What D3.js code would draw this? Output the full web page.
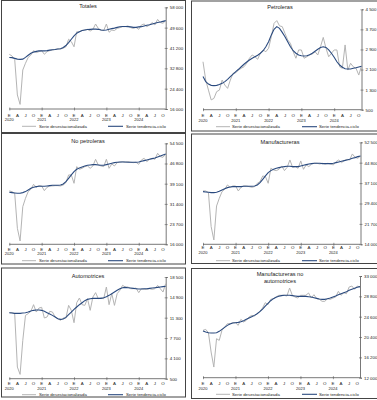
<!DOCTYPE html>
<html><head><meta charset="utf-8">
<script src="https://cdn.jsdelivr.net/npm/d3@7"></script>
<style>body{margin:0;background:#fff}svg{display:block}text{font-family:"Liberation Sans",Arial,sans-serif;fill:#222}</style>
</head><body><svg id="c" width="377" height="400"></svg>
<script>
const years = ["2020","2021","2022","2023","2024"];
const quarterLabels = ["E","A","J","O"];
const legendLabels = ["Serie desestacionalizada","Serie tendencia-ciclo"];

const totalesDes = [38580,37900,36500,21800,17900,32100,34900,37300,38300,40100,39300,39700,40100,38600,39700,40100,40400,40600,40800,40800,41100,41700,44800,43800,41700,47900,47900,48400,48600,48900,48200,48900,51100,49300,48600,48400,51100,47700,48600,48400,49300,49600,50000,50000,50300,49600,49300,49700,48900,50700,51100,50000,50700,51700,50700,53000,51700,51400,52500];
const totalesTen = [37300,37200,36900,36600,36500,36600,37300,38200,39000,39500,39800,40000,40000,40000,40100,40300,40500,40600,40800,40900,41400,42200,43400,44800,46200,47300,47900,48400,48600,48800,48900,49000,49000,48900,48600,48500,48600,48900,49200,49400,49700,50000,50100,50100,50000,49900,49700,49700,49900,50000,50300,50600,50800,51100,51400,51700,51900,52200,52500];
const totalesTicks = [16000,24400,32800,41200,49600,58000];

const petrolDes = [2410,1680,1280,890,950,1220,1280,1680,1480,1350,1680,1950,1970,2080,2150,2210,2350,2550,2680,2610,2510,2750,2880,2810,2950,3410,3940,4050,3840,3810,3540,3280,3140,2810,2550,2880,2880,2550,2610,2680,2720,2810,2680,3010,3380,2950,2610,2750,2880,2880,2210,2150,3080,2080,2350,2210,2150,1880,2250];
const petrolTen = [1820,1620,1520,1470,1460,1470,1500,1550,1620,1710,1820,1920,2020,2110,2210,2310,2400,2480,2550,2610,2670,2750,2850,3010,3210,3480,3700,3810,3740,3580,3410,3210,3010,2850,2750,2680,2650,2640,2650,2690,2750,2830,2910,2980,3010,2980,2880,2750,2590,2410,2280,2190,2130,2120,2120,2150,2170,2200,2230];
const petrolTicks = [500,1300,2100,2900,3700,4500];

const noPetrolDes = [36330,36080,35440,22100,17270,30360,33530,36080,36970,38870,37730,38360,38240,36460,37730,38240,38240,38360,38360,38240,38620,39510,42430,42430,39250,45610,44590,44970,45610,45860,44970,45860,48400,46240,45860,45610,48400,44970,46620,45860,47130,47260,47510,47260,47510,47260,47130,47260,46500,48150,48780,47510,48400,48780,48400,50690,49420,49160,50430];
const noPetrolTen = [35820,35700,35570,35440,35440,35700,36080,36710,37350,37730,37980,38110,38110,38110,38240,38360,38490,38490,38490,38620,39000,39890,41160,42430,43700,44590,45100,45480,45860,46110,46240,46370,46370,46240,46110,46110,46370,46620,46880,47130,47260,47380,47380,47380,47260,47260,47260,47260,47380,47640,47890,48150,48400,48660,48910,49290,49670,50050,50430];
const noPetrolTicks = [16000,23700,31400,39100,46800,54500];

const manufDes = [34140,34140,33510,20680,15640,28470,31370,33880,34760,36400,35520,36020,36020,34140,35520,36020,36020,35770,35520,35770,37030,37660,39800,39540,37030,42690,42060,41810,42310,43570,41810,43070,45830,43070,43320,42690,45460,42310,43950,43320,44320,44580,44580,44320,44580,44320,44580,44320,43950,45200,45830,44830,45580,46080,45830,48100,46840,46460,47340];
const manufTen = [33880,33760,33630,33510,33510,33630,34010,34510,35010,35390,35640,35770,35770,35770,35770,35900,35900,35900,35900,36020,36400,37280,38540,39800,41050,41810,42310,42690,42940,43190,43320,43440,43440,43320,43320,43320,43570,43820,44070,44320,44450,44580,44580,44580,44450,44450,44450,44450,44580,44830,45080,45330,45580,45830,46080,46460,46710,47090,47340];
const manufTicks = [14000,21700,29400,37100,44800,52500];

const autoDes = [12180,12180,12010,2560,1260,7280,11710,12010,12420,13600,12300,13010,13130,11240,11420,12420,12300,11420,11120,10830,11240,11240,13480,12600,10410,13950,14780,13600,13480,14660,12600,14960,15730,14660,14780,14660,16730,13600,15550,13480,15550,16140,17020,16730,16730,16430,16430,16550,15730,16430,16320,16320,16430,16320,16430,17020,16430,15840,17320];
const autoTen = [12180,12120,12070,12070,12070,12120,12180,12300,12480,12600,12650,12650,12600,12420,12180,11950,11710,11420,11120,11000,11060,11360,11830,12300,12770,13190,13600,13950,14310,14540,14660,14720,14720,14720,14720,14840,15020,15250,15550,15840,16140,16430,16610,16670,16610,16550,16490,16430,16370,16370,16430,16430,16490,16550,16610,16670,16730,16790,16850];
const autoTicks = [500,4100,7700,11300,14900,18500];

const manufNoAutoDes = [21770,21980,21290,17300,14200,20050,19710,21770,22460,23150,23150,23360,23360,22810,24050,23500,23840,24530,24870,24740,25220,25700,26390,27490,27080,28180,28320,28660,29010,29010,29010,28870,30520,29010,28660,28450,29010,29010,29010,29490,28450,29140,28320,28180,27770,27770,28320,28180,28450,28660,29830,29010,29560,29350,30730,30930,30250,30930,30730];
const manufNoAutoTen = [21640,21430,21290,21220,21220,21290,21570,21980,22390,22810,23080,23290,23360,23430,23560,23770,24050,24320,24600,24870,25220,25630,26180,26800,27350,27900,28320,28590,28800,28940,29010,29010,29010,28940,28870,28800,28800,28800,28800,28730,28660,28520,28380,28250,28180,28180,28320,28450,28660,28870,29140,29350,29560,29760,30040,30250,30450,30660,30800];
const manufNoAutoTicks = [12000,16200,20400,24600,28800,33000];

const panels = [
  {title:["Totales"], des:totalesDes, ten:totalesTen, ticks:totalesTicks,
   box:[1.5,0.5,184,132], x0:9.3, x1:165.7, top:7.3, bottom:109, tx:88, ty:[8],
   my:117, yy:121.3, ly:126.3, leg:[22,36,39,108,123,126]},
  {title:["Petroleras"], des:petrolDes, ten:petrolTen, ticks:petrolTicks,
   box:[191.5,1,190,130], x0:203, x1:361.5, top:9.3, bottom:109.7, tx:280, ty:[8.7],
   my:117.4, yy:121.8, ly:126.7, leg:[216,230,232,302,317,319]},
  {title:["No petroleras"], des:noPetrolDes, ten:noPetrolTen, ticks:noPetrolTicks,
   box:[1.5,133.5,184,130.5], x0:9.3, x1:165.7, top:143.3, bottom:244.3, tx:88, ty:[142.7],
   my:250.7, yy:255, ly:260.7, leg:[22,36,39,108,123,126]},
  {title:["Manufactureras"], des:manufDes, ten:manufTen, ticks:manufTicks,
   box:[191.5,134,190,129.5], x0:203, x1:360.5, top:142.3, bottom:244.3, tx:280, ty:[144.3],
   my:249.3, yy:254, ly:260.7, leg:[216,230,232,302,317,319]},
  {title:["Automotrices"], des:autoDes, ten:autoTen, ticks:autoTicks,
   box:[1.5,268,184,129], x0:9.3, x1:165.7, top:277, bottom:378.7, tx:88, ty:[278],
   my:385.4, yy:390.2, ly:394.7, leg:[22,36,39,108,123,126]},
  {title:["Manufactureras no","automotrices"], des:manufNoAutoDes, ten:manufNoAutoTen, ticks:manufNoAutoTicks,
   box:[191.5,268.5,190,130], x0:203, x1:360, top:276, bottom:377.7, tx:280, ty:[276.3,283],
   my:384.7, yy:389.5, ly:394.3, leg:[216,230,232,302,317,319]}
];

const GREY = "#b4b4b4", BLUE = "#2a4a7f", AXIS = "#555";
const loc = d3.formatLocale({decimal:".", thousands:" ", grouping:[3], currency:["",""]});
const fmt = loc.format(",d");
const svg = d3.select("#c");

panels.forEach(p => {
  const g = svg.append("g");
  g.append("rect").attr("x",p.box[0]).attr("y",p.box[1]).attr("width",p.box[2]).attr("height",p.box[3])
    .attr("fill","none").attr("stroke","#444").attr("stroke-width",1);
  const n = p.des.length;
  const x = d3.scaleLinear().domain([0,n-1]).range([p.x0,p.x1]);
  const y = d3.scaleLinear().domain([d3.min(p.ticks),d3.max(p.ticks)]).range([p.bottom,p.top]);

  // title
  p.title.forEach((t,i)=> g.append("text").attr("x",p.tx).attr("y",p.ty[i]).attr("text-anchor","middle")
    .attr("font-size",5.6).text(t));

  // y axis on right
  const ya = d3.axisRight(y).tickValues(p.ticks).tickSize(2).tickPadding(2).tickFormat(fmt);
  const yg = g.append("g").attr("transform",`translate(${x(n-1)},0)`).call(ya);
  yg.select(".domain").attr("stroke",AXIS).attr("stroke-width",0.8);
  yg.selectAll(".tick line").attr("stroke",AXIS).attr("stroke-width",0.6).attr("x1",-1);
  yg.selectAll(".tick text").attr("font-size",4.4).attr("fill","#222").attr("font-family",'"Liberation Sans",Arial,sans-serif');

  // x axis
  const qIdx = d3.range(0,n,3);
  const xa = d3.axisBottom(x).tickValues(d3.range(0,n,12)).tickSize(1.5).tickFormat("");
  const xg = g.append("g").attr("transform",`translate(0,${p.bottom})`).call(xa);
  xg.select(".domain").attr("stroke",AXIS).attr("stroke-width",0.8).attr("d",`M${p.x0},0H${x(n-1)}`);
  xg.selectAll(".tick line").attr("stroke",AXIS).attr("stroke-width",0.6).attr("y1",-1.5);
  g.selectAll(null).data(qIdx).enter().append("text").attr("x",d=>x(d)).attr("y",p.my)
    .attr("text-anchor","middle").attr("font-size",4.4).text(d=>quarterLabels[(d/3)%4]);
  g.selectAll(null).data(years).enter().append("text").attr("x",(d,i)=>x(i*12)).attr("y",p.yy)
    .attr("text-anchor","middle").attr("font-size",4).text(d=>d);

  // lines
  const line = d3.line().x((d,i)=>x(i)).y(d=>y(d));
  g.append("path").datum(p.des).attr("d",line).attr("fill","none").attr("stroke",GREY).attr("stroke-width",1);
  g.append("path").datum(p.ten).attr("d",line).attr("fill","none").attr("stroke",BLUE).attr("stroke-width",1.1);

  // legend
  const L = p.leg;
  g.append("line").attr("x1",L[0]).attr("x2",L[1]).attr("y1",p.ly).attr("y2",p.ly).attr("stroke",GREY).attr("stroke-width",1);
  g.append("text").attr("x",L[2]).attr("y",p.ly+1.5).attr("font-size",4.3).text(legendLabels[0]);
  g.append("line").attr("x1",L[3]).attr("x2",L[4]).attr("y1",p.ly).attr("y2",p.ly).attr("stroke",BLUE).attr("stroke-width",1.1);
  g.append("text").attr("x",L[5]).attr("y",p.ly+1.5).attr("font-size",4.3).text(legendLabels[1]);
});
</script></body></html>
